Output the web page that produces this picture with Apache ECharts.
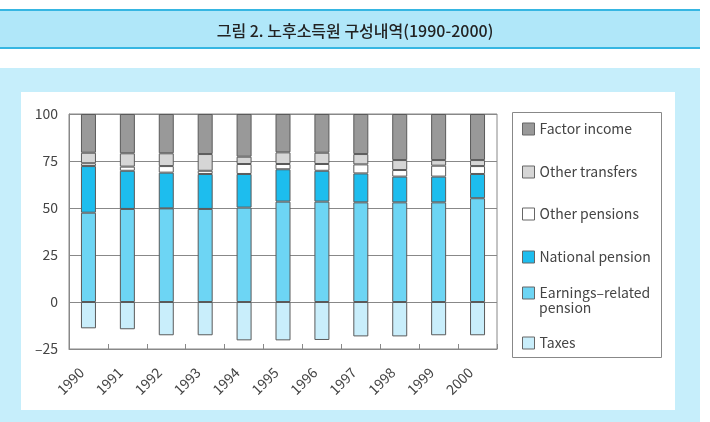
<!DOCTYPE html>
<html><head><meta charset="utf-8">
<script src="https://cdn.jsdelivr.net/npm/echarts@6/dist/echarts.min.js"></script>
<style>html,body{margin:0;padding:0;background:#fff;}#c{width:710px;height:422px;}</style>
</head><body><div id="c"></div>
<script>
const years = ['1990','1991','1992','1993','1994','1995','1996','1997','1998','1999','2000'];
const earningsRelated = [47.5, 49.5, 49.8, 49.5, 50.2, 53.4, 53.4, 53.0, 53.0, 53.0, 55.2];
const nationalPension = [24.8, 20.3, 19.0, 18.6, 17.9, 17.2, 16.4, 15.4, 13.7, 13.7, 12.9];
const otherPensions   = [1.5, 2.2, 3.5, 1.7, 5.3, 2.8, 3.6, 4.8, 3.5, 5.8, 4.2];
const otherTransfers  = [5.6, 7.1, 6.8, 8.9, 3.9, 6.2, 6.0, 5.5, 5.3, 3.0, 3.2];
const factorIncome    = [20.6, 20.9, 20.9, 21.3, 22.7, 20.4, 20.6, 21.3, 24.5, 24.5, 24.5];
const taxes           = [-14.0, -14.5, -17.7, -17.7, -20.4, -20.4, -20.2, -18.3, -18.3, -17.7, -17.7];
const yTicks = [-25, 0, 25, 50, 75, 100];
const titleText = '그림 2. 노후소득원 구성내역(1990-2000)';

const FONT = '"Noto Sans CJK KR", "Noto Sans", sans-serif';
const chart = echarts.init(document.getElementById('c'), null, {renderer: 'canvas'});

function bar(name, data, color) {
  return {
    name: name, type: 'bar', stack: 'total', data: data, barWidth: 15,
    itemStyle: {color: color, borderColor: '#5a5a5a', borderWidth: 1},
    emphasis: {disabled: true}
  };
}
function legend(name, top, fmt) {
  const l = {
    data: [name], left: 522, top: top, padding: 0, orient: 'vertical',
    itemWidth: 12, itemHeight: 12, itemGap: 0, icon: 'rect', selectedMode: false,
    itemStyle: {borderColor: '#666', borderWidth: 1},
    textStyle: {fontFamily: FONT, fontSize: 14, color: '#444', lineHeight: 17}
  };
  if (fmt) { l.formatter = fmt; }
  return l;
}

chart.setOption({
  animation: false,
  title: {
    text: titleText, left: 'center', top: 18,
    textStyle: {fontFamily: FONT, fontSize: 16, fontWeight: 500, color: '#222'}
  },
  graphic: [
    {type: 'rect', z: -10, shape: {x: 0, y: 10, width: 700, height: 38}, style: {fill: '#b0e7f9'}},
    {type: 'line', z: -9, shape: {x1: 0, y1: 10, x2: 700, y2: 10}, style: {stroke: '#36b6e2', lineWidth: 2}},
    {type: 'line', z: -9, shape: {x1: 0, y1: 48, x2: 700, y2: 48}, style: {stroke: '#36b6e2', lineWidth: 2}},
    {type: 'rect', z: -10, shape: {x: 0, y: 68, width: 700, height: 354}, style: {fill: '#c6eefb'}},
    {type: 'rect', z: -9, shape: {x: 21, y: 92, width: 654, height: 318}, style: {fill: '#ffffff'}},
    {type: 'rect', z: -8, shape: {x: 512.5, y: 112.5, width: 149, height: 245}, style: {fill: 'none', stroke: '#888', lineWidth: 1}},
    {type: 'text', z: 5, x: 539, y: 308, style: {text: 'pension', fontFamily: FONT, fontSize: 14, fill: '#444', verticalAlign: 'middle'}}
  ],
  legend: [
    legend('Factor income', 120.5),
    legend('Other transfers', 163.5),
    legend('Other pensions', 205.5),
    legend('National pension', 248.5),
    legend('Earnings–related pension', 284.5, function () { return 'Earnings–related'; }),
    legend('Taxes', 334.5)
  ],
  grid: {left: 69, top: 114, width: 428, height: 235, show: true, borderColor: '#888', borderWidth: 1},
  xAxis: {
    type: 'category', data: years, position: 'bottom',
    axisLine: {onZero: false, lineStyle: {color: '#888'}},
    axisTick: {show: true, inside: true, length: 5, lineStyle: {color: '#888'}},
    axisLabel: {rotate: 45, margin: 14, padding: [0, 10, 0, 0], fontFamily: FONT, fontSize: 14, color: '#444'}
  },
  yAxis: {
    type: 'value', min: yTicks[0], max: yTicks[yTicks.length - 1], interval: 25,
    axisLine: {show: true, lineStyle: {color: '#888'}},
    axisTick: {show: false},
    splitLine: {lineStyle: {color: '#888'}},
    axisLabel: {margin: 11, fontFamily: FONT, fontSize: 14, color: '#444',
      formatter: function (v) { return v < 0 ? '–' + Math.abs(v) : String(v); }}
  },
  series: [
    bar('Earnings–related pension', earningsRelated, '#6dd5f4'),
    bar('National pension', nationalPension, '#1dbdee'),
    bar('Other pensions', otherPensions, '#ffffff'),
    bar('Other transfers', otherTransfers, '#d6d6d6'),
    bar('Factor income', factorIncome, '#999999'),
    bar('Taxes', taxes, '#c9eefb')
  ]
});
</script></body></html>
